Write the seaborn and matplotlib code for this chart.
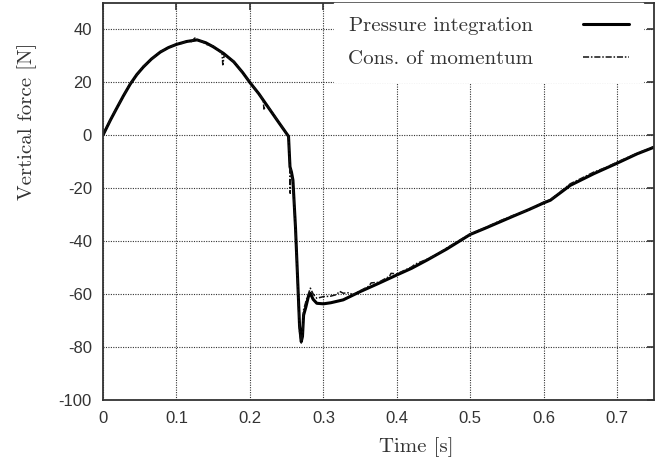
import matplotlib
matplotlib.use("Agg")
import matplotlib.pyplot as plt
import seaborn as sns

# Pressure integration (solid line)
t_pressure = [0, 0.01, 0.019, 0.028, 0.037, 0.046, 0.055, 0.066, 0.078, 0.089,
              0.1, 0.114, 0.128, 0.14, 0.15, 0.164, 0.178, 0.19, 0.2, 0.212,
              0.223, 0.237, 0.2525, 0.2545, 0.2565, 0.2585, 0.262, 0.265, 0.2675, 0.2698,
              0.2715, 0.273, 0.276, 0.2795, 0.2822, 0.286, 0.291, 0.3, 0.31, 0.327,
              0.35, 0.375, 0.4, 0.42, 0.441, 0.468, 0.5, 0.52, 0.541, 0.5586,
              0.58, 0.6, 0.609, 0.636, 0.668, 0.7, 0.727, 0.75]
f_pressure = [0, 5.6, 10.3, 14.9, 19.2, 22.8, 25.7, 28.7, 31.3, 33.0,
              34.2, 35.3, 35.9, 34.8, 33.3, 30.8, 27.6, 23.6, 19.8, 15.6,
              11.2, 5.6, -0.5, -12, -14, -17, -35, -55, -72, -78,
              -76, -68, -65, -61, -59.7, -62, -63.5, -63.7, -63.3, -62.2,
              -59.1, -56, -52.8, -50.3, -47.2, -43, -37.5, -35.2, -32.7, -30.6,
              -28.1, -25.6, -24.6, -19, -14.6, -10.6, -7.1, -4.6]

# Conservation of momentum (dash-dot line, noisier)
t_momentum = [0, 0.01, 0.019, 0.028, 0.037, 0.046, 0.055, 0.066, 0.078, 0.089,
              0.1, 0.108, 0.114, 0.12, 0.125, 0.128, 0.135, 0.14, 0.15, 0.158,
              0.162, 0.163, 0.165, 0.178, 0.19, 0.2, 0.212, 0.218, 0.219, 0.223,
              0.237, 0.2525, 0.254, 0.2548, 0.2555, 0.257, 0.2585, 0.262, 0.265, 0.2675,
              0.2698, 0.2715, 0.273, 0.277, 0.2822, 0.286, 0.291, 0.3, 0.31, 0.318,
              0.322, 0.327, 0.335, 0.34, 0.35, 0.362, 0.365, 0.375, 0.39, 0.392,
              0.4, 0.42, 0.425, 0.441, 0.455, 0.468, 0.5, 0.52, 0.541, 0.5586,
              0.58, 0.6, 0.609, 0.62, 0.636, 0.65, 0.668, 0.685, 0.7, 0.727,
              0.745, 0.75]
f_momentum = [0, 5.8, 10.5, 14.8, 19.5, 22.6, 26.0, 28.5, 31.5, 32.8,
              34.4, 34.6, 35.6, 35.2, 36.6, 35.8, 35.4, 34.2, 33.6, 31.6,
              31.2, 26.5, 30.2, 27.8, 23.4, 20.0, 15.4, 13.5, 9.8, 11.4,
              5.8, -0.5, -10, -22, -13, -15, -18, -36, -57, -74,
              -78.5, -75, -66, -62, -57.8, -60, -61.6, -61, -60.8, -60.2,
              -59.0, -59.7, -59.5, -60.3, -58.8, -57.0, -55.8, -55.6, -53.3, -52.2,
              -52.4, -49.8, -48.7, -46.9, -45.0, -42.6, -37.3, -35.0, -32.3, -30.3,
              -28.2, -25.3, -24.4, -22.0, -18.4, -16.5, -14.0, -12.2, -10.2, -6.9,
              -5.0, -4.3]

x_ticks = [0, 0.1, 0.2, 0.3, 0.4, 0.5, 0.6, 0.7]
x_labels = ["0", "0.1", "0.2", "0.3", "0.4", "0.5", "0.6", "0.7"]
y_ticks = [-100, -80, -60, -40, -20, 0, 20, 40]
y_labels = ["-100", "-80", "-60", "-40", "-20", "0", "20", "40"]

sns.set_style("white")
plt.rcParams["font.family"] = ["Liberation Sans", "DejaVu Sans"]
plt.rcParams["axes.unicode_minus"] = False

fig = plt.figure(figsize=(6.69, 4.66), dpi=100)
ax = fig.add_axes([0.154, 0.1416, 0.8236, 0.853])

sns.lineplot(x=t_pressure, y=f_pressure, ax=ax, color="black", lw=2.2,
             estimator=None, sort=False, label="Pressure integration")
sns.lineplot(x=t_momentum, y=f_momentum, ax=ax, color="#111111", lw=1.1,
             estimator=None, sort=False, label="Cons. of momentum",
             linestyle=(0, (4, 1.2, 1, 1.2)))

ax.set_xlim(0, 0.75)
ax.set_ylim(-100, 50)
ax.set_xticks(x_ticks)
ax.set_xticklabels(x_labels)
ax.set_yticks(y_ticks)
ax.set_yticklabels(y_labels)

ax.grid(True, linestyle=(0, (1, 1.2)), color="#333333", lw=0.8)
for s in ax.spines.values():
    s.set_color("#333333")
    s.set_linewidth(1.3)
ax.tick_params(direction="in", length=5, width=1.2, color="#333333",
               top=True, right=True, labelsize=12, labelcolor="#333333", pad=8)

serif = {"family": "cmr10", "size": 15, "color": "#333333"}
ax.set_xlabel("Time [s]", fontdict=serif)
ax.set_ylabel("Vertical force [N]", fontdict=serif)
ax.xaxis.label.set_va("center")
ax.yaxis.label.set_va("center")
ax.xaxis.set_label_coords(0.568, -0.118)
ax.yaxis.set_label_coords(-0.138, 0.70)

leg = ax.legend(loc="upper right", bbox_to_anchor=(0.98, 1.0), frameon=True,
                markerfirst=False, handlelength=2.2, handletextpad=2.4,
                labelspacing=0.68, borderpad=0.68, borderaxespad=0.0,
                prop={"family": "cmr10", "size": 15})
leg.get_frame().set_facecolor("white")
leg.get_frame().set_edgecolor("white")
leg.get_frame().set_alpha(1.0)
leg.get_frame().set_boxstyle("square", pad=0)
for txt in leg.get_texts():
    txt.set_color("#333333")

fig.savefig("out.png", dpi=100)
